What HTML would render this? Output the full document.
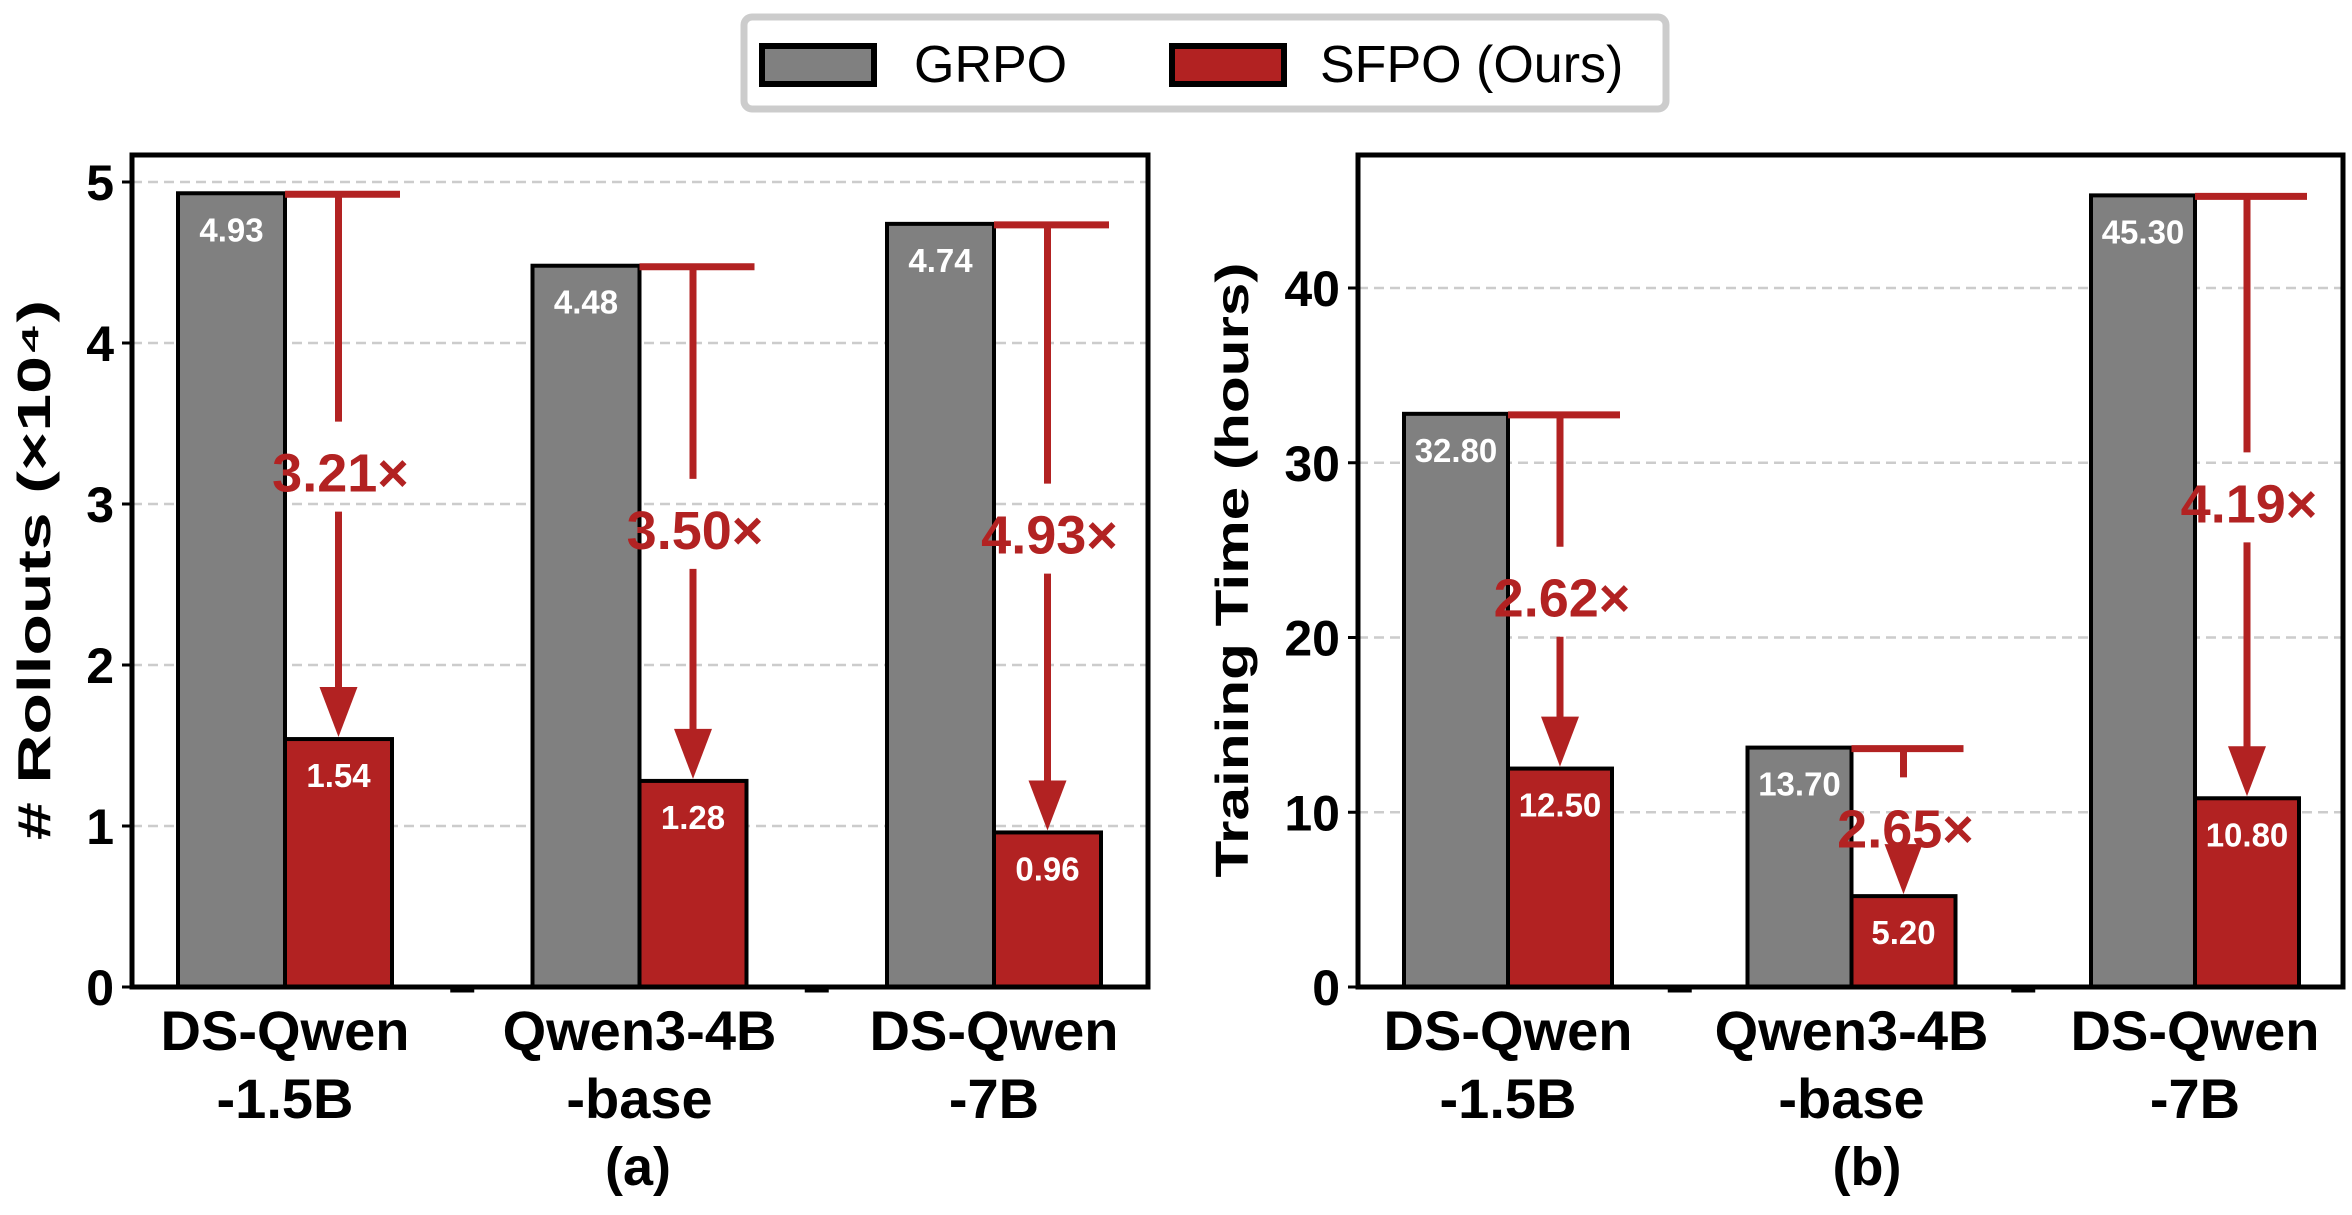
<!DOCTYPE html>
<html><head><meta charset="utf-8"><style>
html,body{margin:0;padding:0;background:#fff;}
svg{display:block;}
text{font-family:"Liberation Sans",Arial,sans-serif;}
</style></head><body>
<svg id="chart" width="2352" height="1215" viewBox="0 0 2352 1215" xmlns="http://www.w3.org/2000/svg">
<g>
<rect x="744" y="17" width="922" height="92" rx="8" fill="#fff" stroke="#cccccc" stroke-width="7"/>
<rect x="762" y="46" width="112" height="38" fill="#808080" stroke="#000" stroke-width="6"/>
<text x="914" y="82" font-size="52" font-family="DejaVu Sans, sans-serif">GRPO</text>
<rect x="1172" y="46" width="112" height="38" fill="#b22222" stroke="#000" stroke-width="6"/>
<text x="1320" y="82" font-size="52" font-family="DejaVu Sans, sans-serif">SFPO (Ours)</text>
</g>
</svg>
<script>
const categories = [["DS-Qwen","-1.5B"],["Qwen3-4B","-base"],["DS-Qwen","-7B"]];
const rolloutsGRPO = [4.93, 4.48, 4.74];
const rolloutsSFPO = [1.54, 1.28, 0.96];
const rolloutsSpeedup = ["3.21×","3.50×","4.93×"];
const rolloutsTicks = [0,1,2,3,4,5];
const timeGRPO = [32.80, 13.70, 45.30];
const timeSFPO = [12.50, 5.20, 10.80];
const timeSpeedup = ["2.62×","2.65×","4.19×"];
const timeTicks = [0,10,20,30,40];

const NS = "http://www.w3.org/2000/svg";
const svg = document.getElementById('chart');
function el(tag, attrs, parent){
  const e = document.createElementNS(NS, tag);
  for (const k in attrs) e.setAttribute(k, attrs[k]);
  (parent||svg).appendChild(e);
  return e;
}
const RED = "#b22222", GRAY = "#808080";

function panel(cfg){
  const g = el('g', {});
  
  
  const y = v => cfg.bottom - (v - 0) / cfg.ymax * (cfg.bottom - cfg.ymaxPix);
  const barW = cfg.barW;
  const xc = i => cfg.x0 + i * cfg.step;
  cfg.ticks.forEach(t => {
    const gy = y(t);
    if (t > 0) {
      const gl = el('line', {x1:cfg.left, x2:cfg.right, y1:gy, y2:gy, stroke:"#cccccc", 'stroke-width':2.5, 'stroke-dasharray':"10,6"}, g);
      
      
    }
    const tk = el('line', {x1:cfg.left-10, x2:cfg.left, y1:gy, y2:gy, stroke:"#000", 'stroke-width':3}, g);
    
    
    const tl = el('text', {x:cfg.left-18, y:gy+18, 'font-size':50, 'font-weight':'bold', 'text-anchor':'end'}, g);
    tl.textContent = String(t);
    
    
  });
  for (let i = 0; i < cfg.grpo.length - 1; i++) {
    const mx = (xc(i) + xc(i+1)) / 2;
    const d = el('line', {x1:mx-12, x2:mx+12, y1:cfg.bottom+4, y2:cfg.bottom+4, stroke:"#000", 'stroke-width':3}, g);
    
    
  }
  cfg.grpo.forEach((v, i) => {
    const c = xc(i);
    const b1 = el('rect', {x:c-barW, y:y(v), width:barW, height:cfg.bottom-y(v), fill:GRAY, stroke:"#000", 'stroke-width':4}, g);
    
    
    const s = cfg.sfpo[i];
    const b2 = el('rect', {x:c, y:y(s), width:barW, height:cfg.bottom-y(s), fill:RED, stroke:"#000", 'stroke-width':4}, g);
    
    
    const l1 = el('text', {x:c-barW/2, y:y(v)+48, 'font-size':33, 'font-weight':'bold', fill:"#fff", 'text-anchor':'middle', 'font-family':'DejaVu Sans, sans-serif'}, g);
    l1.textContent = v.toFixed(cfg.dec);
    
    
    const l2 = el('text', {x:c+barW/2, y:y(s)+48, 'font-size':33, 'font-weight':'bold', fill:"#fff", 'text-anchor':'middle', 'font-family':'DejaVu Sans, sans-serif'}, g);
    l2.textContent = s.toFixed(cfg.dec);
    
    
    const ax = c + barW/2;
    const top = y(v) + 1, bot = y(s) - 2;
    const tb = el('line', {x1:c, x2:c+barW+8, y1:top, y2:top, stroke:RED, 'stroke-width':7}, g);
    
    
    const mid = (top + bot) / 2 + 8;
    const headH = 50;
    const v1 = el('line', {x1:ax, x2:ax, y1:top, y2:Math.max(top, mid-52), stroke:RED, 'stroke-width':7}, g);
    
    
    const v2 = el('line', {x1:ax, x2:ax, y1:mid+38, y2:bot-headH+2, stroke:RED, 'stroke-width':7}, g);
    
    
    const hd = el('polygon', {points:`${ax-19},${bot-headH} ${ax+19},${bot-headH} ${ax},${bot}`, fill:RED}, g);
    
    
    const sp = el('text', {x:ax+2, y:mid+18, 'font-size':54, 'font-weight':'bold', fill:RED, 'text-anchor':'middle'}, g);
    sp.textContent = cfg.speed[i];
    
    
    const cl1 = el('text', {x:c, y:1050, 'font-size':56, 'font-weight':'bold', 'text-anchor':'middle'}, g);
    cl1.textContent = categories[i][0];
    
    
    const cl2 = el('text', {x:c, y:1118, 'font-size':56, 'font-weight':'bold', 'text-anchor':'middle'}, g);
    cl2.textContent = categories[i][1];
    
    
  });
  const fr = el('rect', {x:cfg.left, y:cfg.top, width:cfg.right-cfg.left, height:cfg.bottom-cfg.top, fill:"none", stroke:"#000", 'stroke-width':5}, g);
  
  
  const yt = el('text', {x:0, y:0, 'font-size':46, 'font-weight':'bold', 'text-anchor':'middle', 'font-family':'DejaVu Sans, sans-serif', textLength:cfg.titleLen, lengthAdjust:'spacingAndGlyphs', transform:`translate(${cfg.titleX},${cfg.titleY}) rotate(-90)`}, g);
  yt.textContent = cfg.title;
  
  
  const sub = el('text', {x:cfg.subX, y:1185, 'font-size':54, 'font-weight':'bold', 'text-anchor':'middle'}, g);
  sub.textContent = cfg.sub;
  
  
}

panel({name:'panel-rollouts', left:132, right:1148, top:155, bottom:987, ymax:5, ymaxPix:182,
  barW:107, x0:285, step:354.5, grpo:rolloutsGRPO, sfpo:rolloutsSFPO, speed:rolloutsSpeedup,
  ticks:rolloutsTicks, dec:2, title:'# Rollouts (×10⁴)', titleX:50, titleY:570, titleLen:540, sub:'(a)', subX:638});
panel({name:'panel-training-time', left:1358, right:2343, top:155, bottom:987, ymax:40, ymaxPix:288,
  barW:104, x0:1508, step:343.5, grpo:timeGRPO, sfpo:timeSFPO, speed:timeSpeedup,
  ticks:timeTicks, dec:2, title:'Training Time (hours)', titleX:1248, titleY:570, titleLen:615, sub:'(b)', subX:1867});
</script>
</body></html>
